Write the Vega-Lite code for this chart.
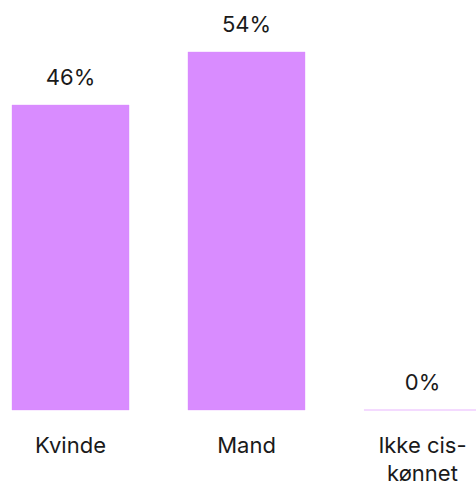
{
  "$schema": "https://vega.github.io/schema/vega-lite/v6.json",
  "autosize": "none",
  "padding": {"left": 12, "top": 0, "right": 0, "bottom": 76},
  "width": 464,
  "height": 410,
  "background": "white",
  "config": {"view": {"stroke": null}, "font": "Inter"},
  "data": {"values": [
    {"kategori": "Kvinde", "andel": 0.46},
    {"kategori": "Mand", "andel": 0.54},
    {"kategori": "Ikke cis-kønnet", "andel": 0}
  ]},
  "encoding": {
    "x": {
      "field": "kategori", "type": "nominal", "sort": null,
      "scale": {"paddingInner": 0.335, "paddingOuter": 0, "range": [0, 469]},
      "axis": {
        "title": null, "domain": false, "ticks": false, "labelAngle": 0,
        "labelFont": "Inter", "labelFontSize": 22, "labelColor": "#1a1a1a",
        "labelBaseline": "alphabetic", "labelPadding": 42, "labelLineHeight": 28,
        "labelExpr": "datum.value == 'Ikke cis-kønnet' ? ['Ikke cis-', 'kønnet'] : datum.value"
      }
    },
    "y": {
      "field": "andel", "type": "quantitative",
      "scale": {"domain": [0, 0.6184], "nice": false},
      "axis": null
    }
  },
  "layer": [
    {"mark": {"type": "bar", "color": "#d98cff", "stroke": "#d98cff", "strokeWidth": 1, "strokeOpacity": 0.35}},
    {"mark": {"type": "text", "baseline": "alphabetic", "dy": -20, "fontSize": 22, "font": "Inter", "color": "#1a1a1a"},
     "encoding": {"text": {"field": "andel", "type": "quantitative", "format": ".0%"}}}
  ]
}
